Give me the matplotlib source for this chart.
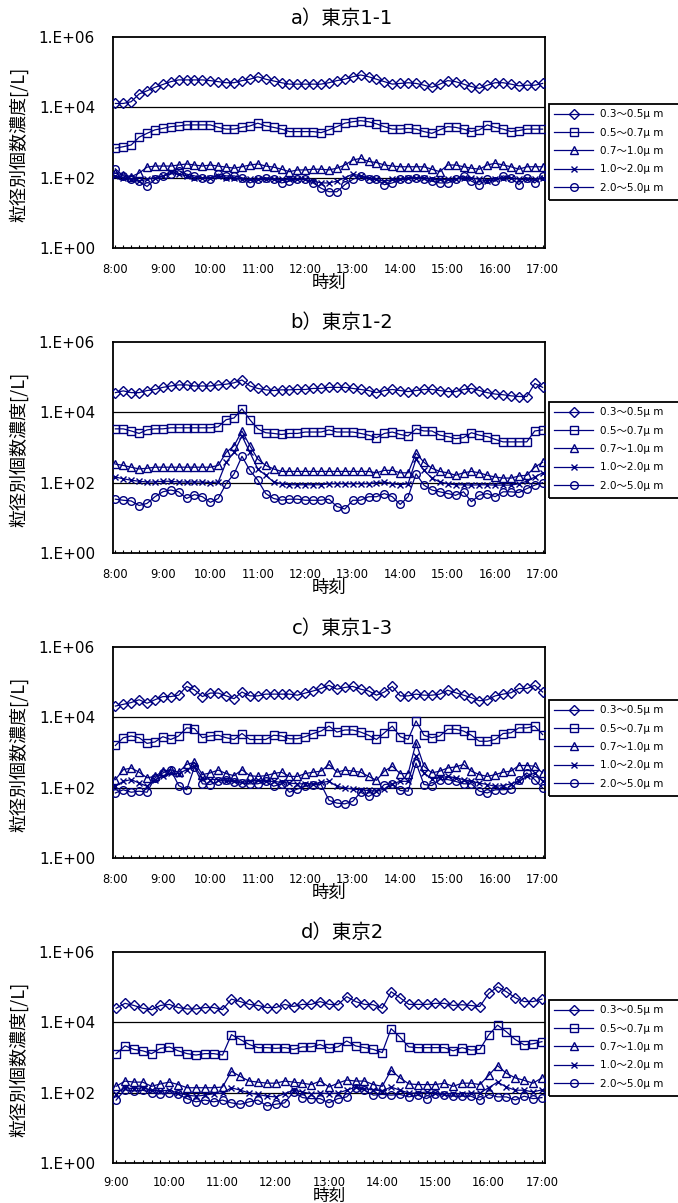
import numpy as np
import matplotlib
matplotlib.use("Agg")
import matplotlib.pyplot as plt
from matplotlib.patches import Rectangle
from matplotlib.ticker import FixedLocator, MultipleLocator, NullLocator

plt.rcParams['font.family'] = ['DejaVu Sans', 'Noto Sans CJK JP']
cjk = ['Noto Sans CJK JP', 'DejaVu Sans']

# 粒径別個数濃度 の読み取り値 (log10 [/L])、10分毎
labels = ["0.3～0.5μ m", "0.5～0.7μ m", "0.7～1.0μ m", "1.0～2.0μ m", "2.0～5.0μ m"]
titles = ["a）東京1-1", "b）東京1-2", "c）東京1-3", "d）東京2"]

t_abc = np.arange(480, 1021, 10)   # 8:00-17:00
t_d = np.arange(540, 1021, 10)     # 9:00-17:00

a_03 = [4.11, 4.11, 4.16, 4.38, 4.47, 4.57, 4.65, 4.73, 4.78, 4.78, 4.78, 4.78, 4.76,
        4.73, 4.70, 4.70, 4.76, 4.80, 4.87, 4.80, 4.75, 4.70, 4.66, 4.66, 4.66,
        4.66, 4.66, 4.70, 4.76, 4.80, 4.87, 4.92, 4.87, 4.80, 4.73, 4.66, 4.68,
        4.70, 4.68, 4.63, 4.57, 4.66, 4.76, 4.73, 4.66, 4.59, 4.54, 4.63, 4.70,
        4.70, 4.66, 4.61, 4.63, 4.63, 4.68]
a_05 = [2.84, 2.88, 2.93, 3.15, 3.26, 3.36, 3.40, 3.45, 3.47, 3.50, 3.50, 3.50, 3.50,
        3.43, 3.38, 3.38, 3.43, 3.47, 3.55, 3.47, 3.43, 3.38, 3.31, 3.31, 3.31,
        3.31, 3.28, 3.36, 3.45, 3.55, 3.59, 3.62, 3.59, 3.53, 3.45, 3.38, 3.38,
        3.40, 3.38, 3.31, 3.26, 3.36, 3.45, 3.43, 3.38, 3.31, 3.36, 3.50, 3.43,
        3.38, 3.31, 3.34, 3.38, 3.38, 3.38]
a_07 = [2.13, 2.08, 2.03, 2.13, 2.30, 2.33, 2.33, 2.33, 2.36, 2.39, 2.36, 2.33, 2.36,
        2.33, 2.30, 2.27, 2.31, 2.36, 2.39, 2.33, 2.30, 2.24, 2.17, 2.22, 2.22,
        2.24, 2.24, 2.22, 2.27, 2.36, 2.50, 2.55, 2.46, 2.43, 2.36, 2.33, 2.31,
        2.31, 2.31, 2.31, 2.24, 2.17, 2.36, 2.36, 2.31, 2.27, 2.24, 2.36, 2.41,
        2.36, 2.31, 2.24, 2.31, 2.31, 2.31]
a_10 = [2.05, 2.00, 1.95, 1.90, 1.95, 2.00, 2.05, 2.15, 2.10, 2.05, 2.00, 2.00, 2.00,
        2.05, 2.00, 2.00, 1.95, 1.95, 1.95, 1.95, 1.95, 1.95, 1.95, 1.95, 1.95,
        1.90, 1.85, 1.85, 1.90, 2.00, 2.10, 2.05, 2.00, 1.95, 1.90, 1.95, 1.95,
        2.00, 2.00, 2.00, 1.95, 1.95, 1.95, 1.95, 2.00, 2.00, 1.95, 1.90, 1.95,
        2.00, 2.00, 1.95, 1.95, 1.95, 2.00]
a_20 = [2.25, 2.05, 1.95, 1.90, 1.75, 1.95, 2.05, 2.10, 2.20, 2.10, 2.05, 2.00, 1.95,
        2.10, 2.05, 2.05, 2.00, 1.85, 1.95, 2.00, 1.95, 1.85, 1.90, 1.95, 1.95,
        1.85, 1.70, 1.60, 1.60, 1.80, 1.95, 2.05, 1.95, 1.95, 1.80, 1.85, 1.95,
        1.95, 2.00, 1.95, 1.90, 1.85, 1.85, 1.95, 2.05, 1.90, 1.80, 1.95, 1.90,
        2.05, 2.00, 1.80, 2.00, 1.85, 2.05]

b_03 = [4.56, 4.61, 4.56, 4.56, 4.62, 4.65, 4.71, 4.75, 4.78, 4.78, 4.75, 4.75, 4.75,
        4.78, 4.80, 4.84, 4.92, 4.75, 4.68, 4.64, 4.62, 4.64, 4.64, 4.65, 4.65,
        4.68, 4.68, 4.71, 4.71, 4.71, 4.68, 4.65, 4.62, 4.56, 4.62, 4.65, 4.62,
        4.59, 4.62, 4.65, 4.65, 4.62, 4.59, 4.59, 4.65, 4.68, 4.62, 4.56, 4.52,
        4.50, 4.47, 4.45, 4.45, 4.82, 4.71]
b_05 = [3.53, 3.53, 3.47, 3.40, 3.50, 3.53, 3.53, 3.56, 3.56, 3.56, 3.56, 3.56, 3.56,
        3.59, 3.79, 3.84, 4.10, 3.79, 3.53, 3.42, 3.40, 3.37, 3.40, 3.40, 3.44,
        3.44, 3.44, 3.50, 3.44, 3.44, 3.44, 3.40, 3.35, 3.28, 3.40, 3.44, 3.37,
        3.33, 3.53, 3.47, 3.47, 3.35, 3.31, 3.25, 3.28, 3.42, 3.35, 3.31, 3.23,
        3.16, 3.16, 3.16, 3.16, 3.47, 3.50]
b_07 = [2.53, 2.49, 2.44, 2.39, 2.41, 2.44, 2.44, 2.44, 2.44, 2.44, 2.44, 2.44, 2.44,
        2.49, 2.86, 3.05, 3.47, 3.05, 2.67, 2.49, 2.39, 2.32, 2.32, 2.32, 2.32,
        2.32, 2.32, 2.32, 2.32, 2.32, 2.32, 2.32, 2.32, 2.28, 2.35, 2.35, 2.28,
        2.28, 2.84, 2.58, 2.41, 2.32, 2.28, 2.21, 2.28, 2.32, 2.28, 2.21, 2.16,
        2.13, 2.13, 2.19, 2.21, 2.44, 2.58]
b_10 = [2.16, 2.11, 2.07, 2.04, 2.02, 2.02, 2.04, 2.04, 2.02, 2.02, 2.02, 2.02, 2.00,
        2.02, 2.58, 2.86, 3.33, 2.86, 2.39, 2.21, 2.02, 1.97, 1.94, 1.94, 1.94,
        1.94, 1.94, 1.97, 1.97, 1.97, 1.97, 1.97, 1.97, 2.00, 2.02, 1.97, 1.94,
        1.97, 2.67, 2.35, 2.13, 2.02, 1.97, 1.94, 1.94, 1.93, 1.94, 1.94, 1.93,
        1.93, 1.93, 1.97, 2.04, 2.16, 2.28]
b_20 = [1.53, 1.50, 1.48, 1.35, 1.41, 1.60, 1.74, 1.79, 1.74, 1.55, 1.66, 1.60, 1.44,
        1.55, 1.97, 2.25, 2.75, 2.35, 2.07, 1.69, 1.55, 1.50, 1.53, 1.53, 1.50,
        1.50, 1.50, 1.53, 1.32, 1.25, 1.50, 1.50, 1.60, 1.60, 1.69, 1.60, 1.38,
        1.60, 2.25, 1.93, 1.79, 1.74, 1.69, 1.64, 1.74, 1.46, 1.64, 1.69, 1.60,
        1.74, 1.74, 1.72, 1.83, 1.93, 2.00]

c_03 = [4.32, 4.37, 4.42, 4.50, 4.40, 4.50, 4.59, 4.59, 4.63, 4.88, 4.78, 4.59, 4.69,
        4.69, 4.61, 4.53, 4.72, 4.61, 4.61, 4.66, 4.66, 4.66, 4.66, 4.63, 4.69,
        4.75, 4.82, 4.91, 4.80, 4.85, 4.88, 4.80, 4.75, 4.63, 4.72, 4.88, 4.61,
        4.61, 4.66, 4.63, 4.63, 4.66, 4.77, 4.70, 4.63, 4.56, 4.47, 4.50, 4.61,
        4.66, 4.70, 4.82, 4.82, 4.91, 4.72]
c_05 = [3.20, 3.42, 3.47, 3.42, 3.26, 3.30, 3.45, 3.37, 3.47, 3.70, 3.68, 3.42, 3.47,
        3.49, 3.42, 3.37, 3.54, 3.37, 3.37, 3.37, 3.49, 3.47, 3.39, 3.39, 3.45,
        3.54, 3.61, 3.75, 3.58, 3.64, 3.64, 3.58, 3.49, 3.37, 3.56, 3.75, 3.45,
        3.37, 3.90, 3.49, 3.42, 3.47, 3.66, 3.66, 3.61, 3.49, 3.32, 3.32, 3.37,
        3.54, 3.56, 3.70, 3.70, 3.75, 3.51]
c_07 = [2.23, 2.51, 2.56, 2.44, 2.28, 2.32, 2.47, 2.51, 2.44, 2.66, 2.72, 2.37, 2.42,
        2.50, 2.40, 2.34, 2.51, 2.34, 2.32, 2.34, 2.40, 2.44, 2.32, 2.32, 2.40,
        2.44, 2.47, 2.66, 2.44, 2.50, 2.47, 2.44, 2.32, 2.21, 2.47, 2.61, 2.40,
        2.40, 3.28, 2.61, 2.42, 2.47, 2.56, 2.59, 2.66, 2.47, 2.37, 2.32, 2.37,
        2.44, 2.47, 2.63, 2.63, 2.61, 2.42]
c_10 = [2.04, 2.18, 2.23, 2.13, 2.04, 2.23, 2.32, 2.42, 2.40, 2.51, 2.61, 2.28, 2.23,
        2.23, 2.18, 2.18, 2.15, 2.18, 2.21, 2.18, 2.18, 2.15, 2.13, 2.11, 2.11,
        2.11, 2.15, 2.18, 2.04, 1.99, 1.96, 1.94, 1.92, 1.90, 1.96, 2.11, 2.18,
        2.18, 2.90, 2.42, 2.25, 2.28, 2.32, 2.28, 2.23, 2.18, 2.13, 2.09, 2.04,
        2.06, 2.11, 2.18, 2.32, 2.42, 2.18]
c_20 = [1.85, 1.94, 1.87, 1.90, 1.87, 2.28, 2.42, 2.51, 2.06, 1.94, 2.59, 2.11, 2.09,
        2.18, 2.23, 2.15, 2.13, 2.11, 2.11, 2.18, 2.04, 2.11, 1.87, 1.96, 2.04,
        2.09, 2.09, 1.64, 1.56, 1.54, 1.61, 1.87, 1.75, 1.87, 2.09, 2.11, 1.92,
        1.90, 2.70, 2.09, 2.06, 2.23, 2.23, 2.18, 2.11, 2.11, 1.90, 1.85, 1.94,
        1.94, 1.96, 2.23, 2.42, 2.23, 1.99]

d_03 = [4.40, 4.54, 4.48, 4.40, 4.36, 4.48, 4.51, 4.42, 4.38, 4.38, 4.42, 4.42, 4.36,
        4.66, 4.59, 4.51, 4.48, 4.42, 4.42, 4.51, 4.45, 4.51, 4.51, 4.59, 4.51,
        4.50, 4.73, 4.59, 4.51, 4.50, 4.40, 4.87, 4.70, 4.51, 4.51, 4.51, 4.54,
        4.54, 4.48, 4.50, 4.48, 4.45, 4.82, 5.01, 4.87, 4.70, 4.59, 4.59, 4.66]
d_05 = [3.11, 3.33, 3.23, 3.19, 3.11, 3.26, 3.30, 3.19, 3.11, 3.07, 3.11, 3.11, 3.07,
        3.65, 3.51, 3.37, 3.28, 3.28, 3.26, 3.28, 3.23, 3.30, 3.30, 3.37, 3.26,
        3.30, 3.47, 3.33, 3.28, 3.23, 3.14, 3.82, 3.58, 3.30, 3.28, 3.28, 3.28,
        3.28, 3.19, 3.28, 3.21, 3.23, 3.64, 3.92, 3.73, 3.51, 3.36, 3.39, 3.45]
d_07 = [2.18, 2.33, 2.30, 2.30, 2.18, 2.25, 2.30, 2.23, 2.14, 2.14, 2.14, 2.14, 2.16,
        2.61, 2.46, 2.33, 2.30, 2.27, 2.27, 2.33, 2.30, 2.27, 2.23, 2.33, 2.16,
        2.27, 2.36, 2.33, 2.33, 2.23, 2.18, 2.64, 2.42, 2.25, 2.23, 2.23, 2.23,
        2.27, 2.18, 2.27, 2.27, 2.23, 2.49, 2.77, 2.55, 2.42, 2.35, 2.27, 2.42]
d_10 = [1.97, 2.14, 2.11, 2.14, 2.07, 2.05, 2.07, 1.99, 1.93, 1.90, 1.93, 1.97, 1.99,
        2.14, 2.07, 1.99, 1.95, 1.90, 1.88, 1.97, 2.07, 2.02, 1.97, 1.99, 1.97,
        1.99, 2.07, 2.16, 2.11, 2.08, 2.05, 2.16, 2.07, 1.99, 1.99, 2.02, 1.99,
        1.97, 1.97, 1.97, 1.99, 1.99, 2.14, 2.30, 2.16, 2.07, 2.07, 2.02, 2.08]
d_20 = [1.79, 2.08, 2.05, 2.07, 1.99, 1.97, 1.99, 1.95, 1.83, 1.74, 1.79, 1.74, 1.79,
        1.71, 1.67, 1.74, 1.79, 1.62, 1.67, 1.71, 2.02, 1.86, 1.83, 1.83, 1.71,
        1.83, 1.88, 2.14, 2.07, 1.93, 1.95, 1.93, 1.95, 1.88, 1.93, 1.83, 1.97,
        1.93, 1.90, 1.90, 1.90, 1.79, 1.95, 1.88, 1.88, 1.79, 1.90, 1.83, 1.86]

W, H = 678, 1203
navy = '#000080'
markers = [('D', 5.0), ('s', 5.5), ('^', 6.0), ('x', 5.0), ('o', 5.5)]

fig = plt.figure(figsize=(W / 100, H / 100), dpi=100)


def panel(top, title, t, series, xlim, leg_top, last=False):
    ax = fig.add_axes([113 / W, 1 - (top + 211) / H, 432 / W, 211 / H])
    ax.axhline(1e2, color='black', lw=0.9, zorder=1)
    ax.axhline(1e4, color='black', lw=0.9, zorder=1)
    for s, (m, ms), lab in zip(series, markers, labels):
        ax.plot(t, 10 ** np.array(s), color=navy, lw=0.9, marker=m, ms=ms,
                mfc='none', mec=navy, mew=1.0, label=lab, zorder=3)
    ax.set_yscale('log')
    ax.set_ylim(1, 1e6)
    ax.yaxis.set_major_locator(FixedLocator([1, 1e2, 1e4, 1e6]))
    ax.yaxis.set_minor_locator(NullLocator())
    ax.set_yticklabels(['1.E+00', '1.E+02', '1.E+04', '1.E+06'], fontsize=11)
    ax.tick_params(axis='y', length=0, pad=13)
    ax.set_xlim(*xlim)
    hours = np.arange(int(t[0]) // 60, 18)
    ax.set_xticks(hours * 60)
    ax.set_xticklabels([f"{h}:00" for h in hours], fontsize=8.3)
    ax.xaxis.set_minor_locator(MultipleLocator(10))
    ax.tick_params(axis='x', which='both', direction='in', length=2.5, width=0.8,
                   pad=9 if last else 10.5)
    for sp in ax.spines.values():
        sp.set_linewidth(1.3)
    fig.text(342 / W, 1 - (top - 19) / H, title, fontsize=14, ha='center', va='center')
    fig.text(19 / W, 1 - (top + 107) / H, "粒径別個数濃度[/L]", fontsize=13,
             family=cjk, rotation=90, ha='center', va='center')
    if last:
        fig.text(329 / W, 1 - 1201 / H, "時刻", fontsize=12, family=cjk,
                 ha='center', va='baseline')
    else:
        fig.text(329 / W, 1 - (top + 246) / H, "時刻", fontsize=12.5, family=cjk,
                 ha='center', va='center')
    ax.legend(loc='upper left', bbox_to_anchor=(549 / W, 1 - leg_top / H),
              bbox_transform=fig.transFigure, borderaxespad=0, fontsize=7.5,
              handlelength=3.75, handletextpad=0.65, labelspacing=0.8,
              borderpad=0.5, frameon=False)
    # 凡例枠 (右端は図の外へはみ出す)
    fig.add_artist(Rectangle((549 / W, 1 - (leg_top + 96) / H), 200 / W, 96 / H,
                             transform=fig.transFigure, fill=False,
                             edgecolor='black', lw=1.3))
    return ax


panel(37, titles[0], t_abc, [a_03, a_05, a_07, a_10, a_20], (477, 1023), 104)
panel(342, titles[1], t_abc, [b_03, b_05, b_07, b_10, b_20], (477, 1023), 402)
panel(647, titles[2], t_abc, [c_03, c_05, c_07, c_10, c_20], (477, 1023), 700)
panel(952, titles[3], t_d, [d_03, d_05, d_07, d_10, d_20], (536.5, 1023.5), 1000, last=True)

fig.savefig('out.png', dpi=100)
